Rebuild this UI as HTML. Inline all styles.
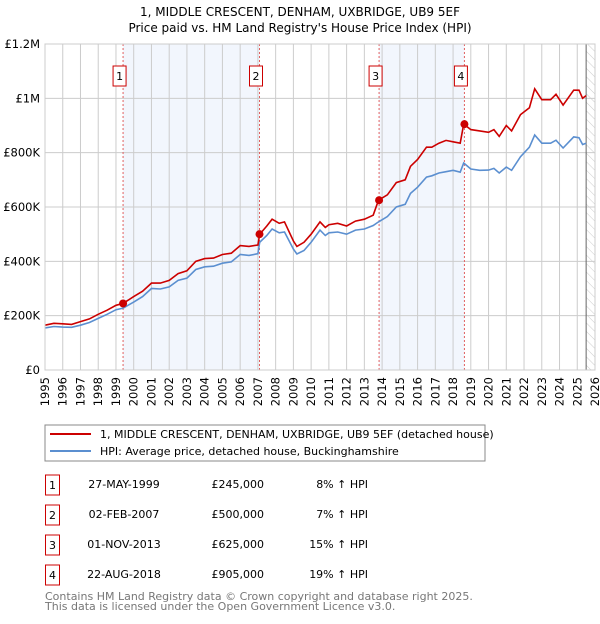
<!DOCTYPE html>
<html><head><meta charset="utf-8"><style>
body{margin:0;background:#fff;font-family:"DejaVu Sans","Liberation Sans",sans-serif;}
svg text{font-family:"DejaVu Sans","Liberation Sans",sans-serif;}
</style></head><body>
<svg id="chart" width="600" height="620" viewBox="0 0 600 620">
<defs><pattern id="hatch" width="6" height="6" patternUnits="userSpaceOnUse" patternTransform="rotate(-45)"><line x1="0" y1="0" x2="0" y2="6" stroke="#ccc" stroke-width="1"/></pattern></defs>
<text x="300" y="16" text-anchor="middle" font-size="12">1, MIDDLE CRESCENT, DENHAM, UXBRIDGE, UB9 5EF</text>
<text x="300" y="32" text-anchor="middle" font-size="12">Price paid vs. HM Land Registry's House Price Index (HPI)</text>
<g id="plot"></g>
<rect x="45" y="425" width="440" height="36" fill="#fff" stroke="#888"/>
<line x1="50" y1="434" x2="91" y2="434" stroke="#cc0000" stroke-width="2"/>
<text x="100" y="438" font-size="11">1, MIDDLE CRESCENT, DENHAM, UXBRIDGE, UB9 5EF (detached house)</text>
<line x1="50" y1="451" x2="91" y2="451" stroke="#5b8fd0" stroke-width="2"/>
<text x="100" y="455" font-size="11">HPI: Average price, detached house, Buckinghamshire</text>
<g id="table" font-size="11"></g>
<text x="45" y="600" font-size="11" fill="#777">Contains HM Land Registry data © Crown copyright and database right 2025.</text>
<text x="45" y="610" font-size="11" fill="#777">This data is licensed under the Open Government Licence v3.0.</text>
</svg>
<script>
const years=[1995,1995.5,1996,1996.5,1997,1997.5,1998,1998.5,1999,1999.4,2000,2000.5,2001,2001.5,2002,2002.5,2003,2003.5,2004,2004.5,2005,2005.5,2006,2006.5,2007,2007.1,2007.5,2007.8,2008.2,2008.5,2009,2009.2,2009.6,2010,2010.5,2010.8,2011,2011.5,2012,2012.5,2013,2013.5,2013.8,2014.3,2014.8,2015.3,2015.6,2016,2016.5,2016.8,2017.2,2017.6,2018,2018.4,2018.6,2019,2019.5,2020,2020.3,2020.6,2021,2021.3,2021.8,2022.3,2022.6,2023,2023.5,2023.8,2024.2,2024.8,2025.1,2025.3,2025.5];
const propertyValues=[165,172,170,168,178,188,205,220,238,245,270,290,320,320,330,355,365,400,410,412,425,430,458,455,460,500,530,555,540,545,475,455,470,500,545,525,535,540,530,548,555,570,625,645,690,700,750,775,820,820,835,845,840,835,905,885,880,875,885,860,900,880,940,965,1035,995,995,1015,975,1030,1030,1000,1010];
const hpiValues=[155,160,158,157,165,175,190,205,222,228,250,270,300,298,306,330,338,370,380,382,393,398,425,422,428,470,495,519,505,508,445,427,440,470,515,495,505,508,500,515,519,532,545,565,600,610,650,673,710,715,725,730,735,728,762,740,735,736,742,725,747,735,785,820,865,835,835,846,817,858,855,830,835];
const saleLabels=["1","2","3","4"];
const saleYears=[1999.4,2007.09,2013.83,2018.64];
const saleValues=[245,500,625,905];
const saleDates=["27-MAY-1999","02-FEB-2007","01-NOV-2013","22-AUG-2018"];
const salePrices=["£245,000","£500,000","£625,000","£905,000"];
const saleHpi=["8% ↑ HPI","7% ↑ HPI","15% ↑ HPI","19% ↑ HPI"];
const yTicks=[0,200,400,600,800,1000,1200];
const yTickLabels=["£0","£200K","£400K","£600K","£800K","£1M","£1.2M"];
const xTicks=[1995,1996,1997,1998,1999,2000,2001,2002,2003,2004,2005,2006,2007,2008,2009,2010,2011,2012,2013,2014,2015,2016,2017,2018,2019,2020,2021,2022,2023,2024,2025,2026];
const dataEnd=2025.5;

const NS="http://www.w3.org/2000/svg";
const X0=45,X1=595,Y0=370,Y1=44;
const xs=y=>X0+(y-1995)/(2026-1995)*(X1-X0);
const ys=v=>Y0-v/1200*(Y0-Y1);
const plot=document.getElementById('plot');
function mk(tag,attrs,parent){const e=document.createElementNS(NS,tag);for(const k in attrs)e.setAttribute(k,attrs[k]);(parent||plot).appendChild(e);return e;}

let bg=mk('rect',{x:X0,y:Y1,width:X1-X0,height:Y0-Y1,fill:'#fff'});


for(let i=0;i<saleYears.length;i+=2){
  let b=mk('rect',{x:xs(saleYears[i]),y:Y1,width:xs(saleYears[i+1])-xs(saleYears[i]),height:Y0-Y1,fill:'#f2f6fd'});
  
  
}
let h=mk('rect',{x:xs(dataEnd),y:Y1,width:X1-xs(dataEnd),height:Y0-Y1,fill:'url(#hatch)'});


xTicks.forEach((t,i)=>{
  let l=mk('line',{x1:xs(t),x2:xs(t),y1:Y1,y2:Y0,stroke:'#ccc','stroke-width':1});
  
  
  let g=mk('g',{transform:'translate('+(xs(t)+4).toFixed(1)+',377) rotate(-90)'});
  let tx=mk('text',{x:0,y:0,'text-anchor':'end','font-size':11.5},g);
  tx.textContent=t;
  
  
});
yTicks.forEach((t,i)=>{
  let l=mk('line',{x1:X0,x2:X1,y1:ys(t),y2:ys(t),stroke:'#ccc','stroke-width':1});
  
  
  let tx=mk('text',{x:40,y:ys(t)+4,'text-anchor':'end','font-size':11.5});
  tx.textContent=yTickLabels[i];
  
  
});
let el=mk('line',{x1:xs(dataEnd),x2:xs(dataEnd),y1:Y1,y2:Y0,stroke:'#666','stroke-width':1});


saleYears.forEach((y,i)=>{
  let l=mk('line',{x1:xs(y),x2:xs(y),y1:Y1,y2:Y0,stroke:'#e06060','stroke-width':1,'stroke-dasharray':'2,2'});
  
  
  let r=mk('rect',{x:xs(y)-10,y:66,width:13,height:20,fill:'#fff',stroke:'#cc0000'});
  
  
  let t=mk('text',{x:xs(y)-3.5,y:80,'text-anchor':'middle','font-size':11});
  t.textContent=saleLabels[i];
  
  
});
function pathOf(vals){return years.map((y,i)=>(i?'L':'M')+xs(y).toFixed(1)+','+ys(vals[i]).toFixed(1)).join('');}
let hp=mk('path',{d:pathOf(hpiValues),fill:'none',stroke:'#5b8fd0','stroke-width':1.6});


let pp=mk('path',{d:pathOf(propertyValues),fill:'none',stroke:'#cc0000','stroke-width':1.6});


saleYears.forEach((y,i)=>{
  let c=mk('circle',{cx:xs(y),cy:ys(saleValues[i]),r:4,fill:'#cc0000'});
  
  
});
let fr=mk('rect',{x:X0,y:Y1,width:X1-X0,height:Y0-Y1,fill:'none',stroke:'#ccc'});


const tb=document.getElementById('table');
saleLabels.forEach((s,i)=>{
  const y0=475+i*30;
  let r=mk('rect',{x:45.5,y:y0,width:14,height:20,fill:'#fff',stroke:'#cc0000'},tb);
  
  
  let t=mk('text',{x:52.5,y:y0+14,'text-anchor':'middle'},tb);t.textContent=s;
  
  
  let d=mk('text',{x:124,y:y0+13,'text-anchor':'middle'},tb);d.textContent=saleDates[i];
  
  
  let p=mk('text',{x:264,y:y0+13,'text-anchor':'end'},tb);p.textContent=salePrices[i];
  
  
  let q=mk('text',{x:368,y:y0+13,'text-anchor':'end'},tb);q.textContent=saleHpi[i];
  
  
});
</script>
</body></html>
